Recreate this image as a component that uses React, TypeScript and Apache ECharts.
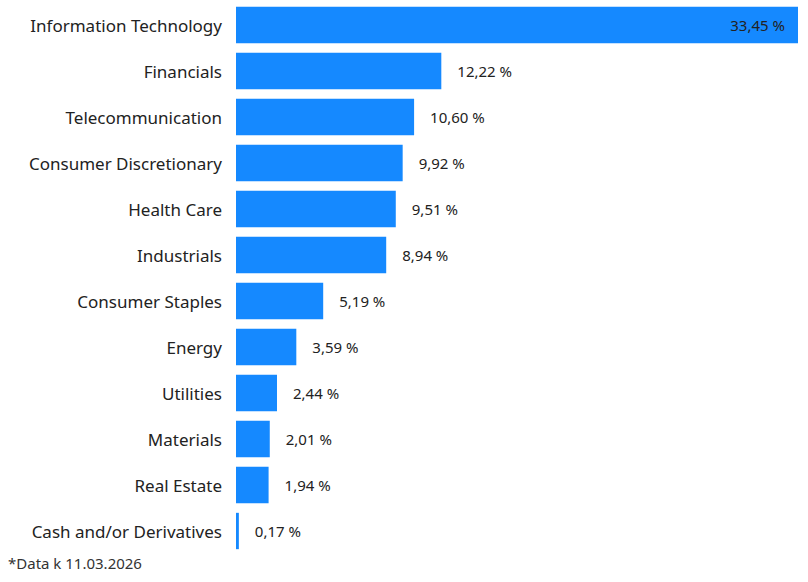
import React, { useEffect, useRef } from "react";
import * as echarts from "echarts";

const categories = [
  "Information Technology",
  "Financials",
  "Telecommunication",
  "Consumer Discretionary",
  "Health Care",
  "Industrials",
  "Consumer Staples",
  "Energy",
  "Utilities",
  "Materials",
  "Real Estate",
  "Cash and/or Derivatives",
];
const values = [33.45, 12.22, 10.6, 9.92, 9.51, 8.94, 5.19, 3.59, 2.44, 2.01, 1.94, 0.17];
const footnote = "*Data k 11.03.2026";

const fmt = (v: number) => v.toFixed(2).replace(".", ",") + " %";

export default function App() {
  const ref = useRef<HTMLDivElement>(null);
  useEffect(() => {
    document.body.style.margin = "0";
    const chart = echarts.init(ref.current!, null, { renderer: "svg" });
    const font = "Noto Sans, Open Sans, sans-serif";
    chart.setOption({
      animation: false,
      grid: { left: 236, right: 10, top: 2, bottom: 28, containLabel: false },
      xAxis: {
        type: "value",
        min: 0,
        max: 33.45,
        show: false,
      },
      yAxis: {
        type: "category",
        data: categories,
        inverse: true,
        axisLine: { show: false },
        axisTick: { show: false },
        axisLabel: { color: "#222", fontSize: 17, fontFamily: font, margin: 14 },
      },
      series: [
        {
          type: "bar",
          barCategoryGap: "21%",
          itemStyle: { color: "#1589FF" },
          data: values.map((v, i) => ({
            value: v,
            label:
              i === 0
                ? { show: true, position: "insideRight", distance: 13 }
                : { show: true, position: "right", distance: 16 },
          })),
          label: {
            color: "#222",
            fontSize: 15,
            fontFamily: font,
            formatter: (p: any) => fmt(p.value),
          },
        },
      ],
      graphic: [
        {
          type: "text",
          left: 8,
          top: 555,
          style: { text: footnote, fontSize: 15, fontFamily: font, fill: "#333" },
        },
      ],
    });
    return () => chart.dispose();
  }, []);
  return <div ref={ref} style={{ width: 808, height: 582 }} />;
}
